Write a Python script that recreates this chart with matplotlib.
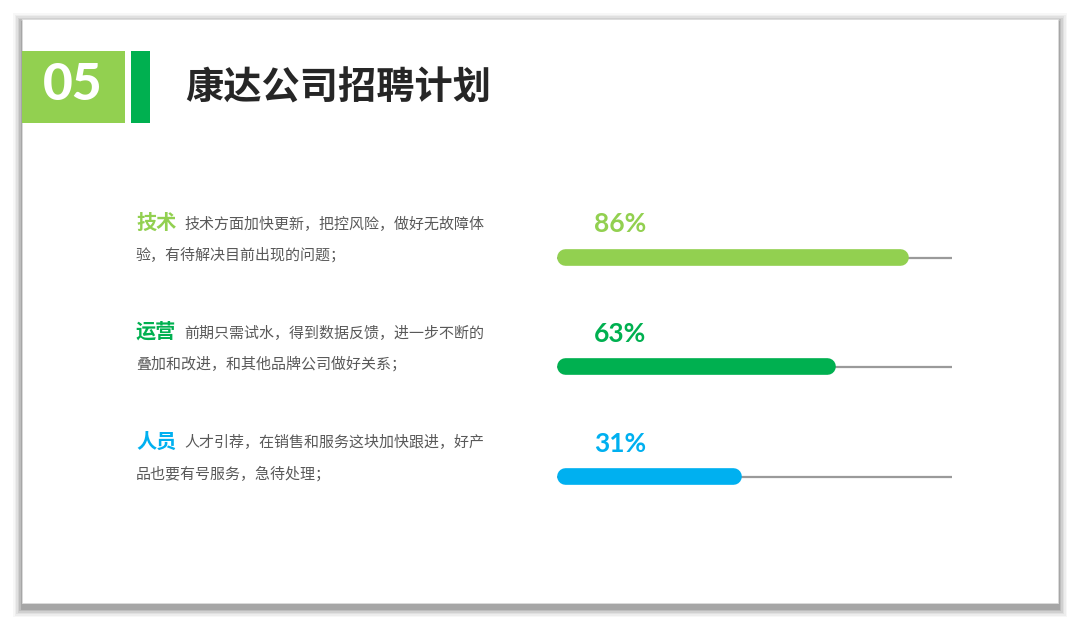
import matplotlib.pyplot as plt
from matplotlib.patches import Rectangle

plt.rcParams['font.family'] = ['Noto Sans CJK SC', 'DejaVu Sans']

# 数据
title = "康达公司招聘计划"
section_no = "05"
headings = ["技术", "运营", "人员"]
line1 = ["技术方面加快更新，把控风险，做好无故障体",
         "前期只需试水，得到数据反馈，进一步不断的",
         "人才引荐，在销售和服务这块加快跟进，好产"]
line2 = ["验，有待解决目前出现的问题；",
         "叠加和改进，和其他品牌公司做好关系；",
         "品也要有号服务，急待处理；"]
labels = ["86%", "63%", "31%"]
fill = [88.9, 70.4, 46.6]   # 图中进度条实际长度(占轨道的百分比)
colors = ["#92D050", "#00B050", "#00B0F0"]

W, H = 1080, 620
fig = plt.figure(figsize=(W / 100, H / 100), dpi=100)
fig.patch.set_facecolor("white")
ax = fig.add_axes([0, 0, 1, 1])
ax.set_xlim(0, W)
ax.set_ylim(H, 0)
ax.axis("off")

# 幻灯片阴影 + 白底
for i, a in enumerate([0.03, 0.04, 0.05, 0.07, 0.09, 0.12]):
    g = 9 - i * 1.5
    ax.add_patch(Rectangle((22 - g, 19 - g + 3), 1036 + 2 * g, 584 + 2 * g + 2,
                           facecolor="#000000", alpha=a, edgecolor="none", zorder=1))
ax.add_patch(Rectangle((22, 19), 1036, 584, facecolor="white",
                       edgecolor="#dcdcdc", linewidth=0.6, zorder=2))

# 标题栏
ax.add_patch(Rectangle((22, 51), 103, 72, facecolor="#92D050", edgecolor="none", zorder=3))
ax.add_patch(Rectangle((131, 51), 19, 72, facecolor="#00B050", edgecolor="none", zorder=3))
ax.text(73, 86, section_no, color="white", fontsize=37, fontweight="black",
        family=["Lato", "DejaVu Sans"], ha="center", va="center", zorder=4)
ax.text(185, 88, title, color="#262626", fontsize=27.5, fontweight="bold",
        ha="left", va="center", zorder=4)

# 左侧说明文字
head_y = [222, 331, 441]
for i in range(3):
    y = head_y[i]
    ax.text(136, y, headings[i], color=colors[i], fontsize=14.5, fontweight="bold",
            ha="left", va="center", zorder=4)
    ax.text(184, y + 2, line1[i], color="#595959", fontsize=10.8,
            ha="left", va="center", zorder=4)
    ax.text(136, y + 33, line2[i], color="#595959", fontsize=10.8,
            ha="left", va="center", zorder=4)

# 右侧进度条
bx0, bx1 = 557, 952
bar_y = [256.5, 366, 476]
axb = fig.add_axes([bx0 / W, 0, (bx1 - bx0) / W, 1])
axb.set_xlim(0, 100)
axb.set_ylim(H, 0)
axb.axis("off")
r = 8.3 / (bx1 - bx0) * 100   # 圆头半径(数据单位)
for i in range(3):
    y = bar_y[i]
    axb.plot([0, 100], [y + 1, y + 1], color="#9a9a9a", linewidth=1.6, zorder=2)
    axb.plot([r, fill[i] - r], [y, y], color=colors[i], linewidth=12,
             solid_capstyle="round", zorder=3)
    axb.text(9.4, y - 32, labels[i], color=colors[i], fontsize=19, fontweight="bold",
             family=["Lato", "DejaVu Sans"], ha="left", va="center", zorder=4)

fig.savefig("out.png", dpi=100, facecolor="white")
